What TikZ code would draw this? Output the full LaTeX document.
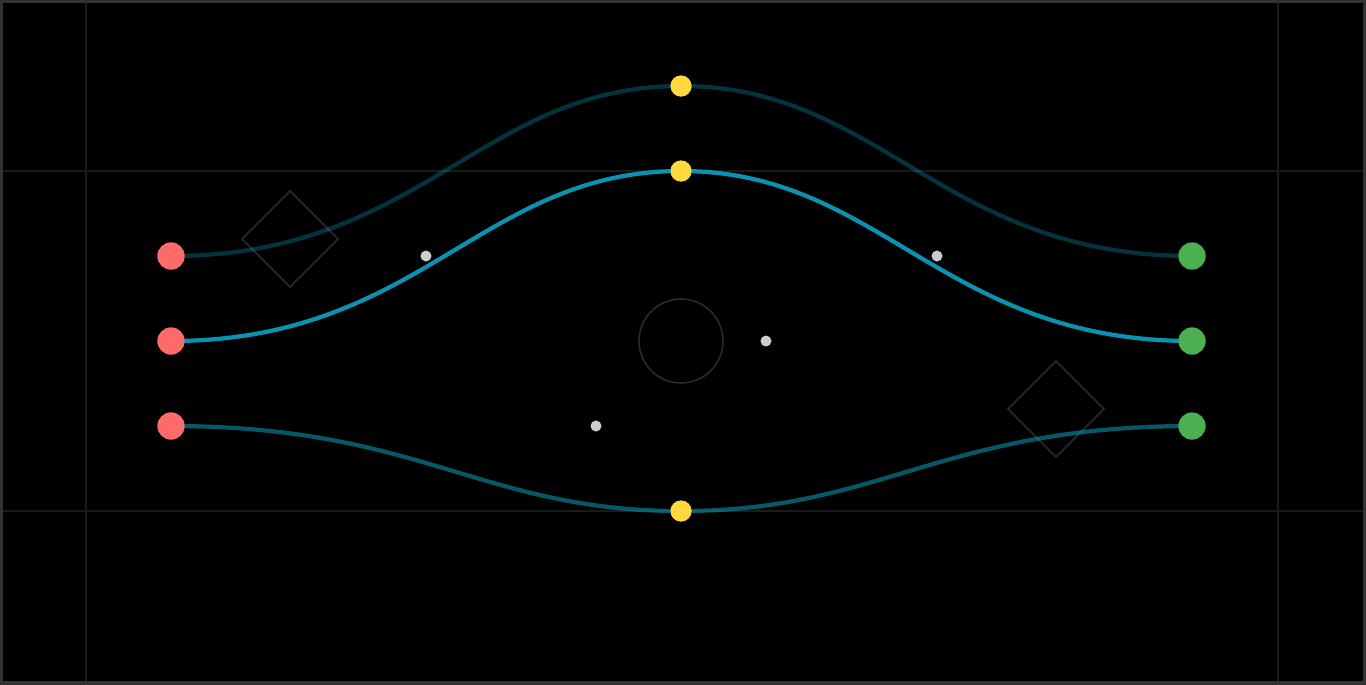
\documentclass[tikz,border=0pt]{standalone}
\usepackage{tikz}
\usetikzlibrary{arrows.meta,positioning,calc}

\definecolor{bgblack}{HTML}{000000}
\definecolor{gridgray}{HTML}{1A1A1A}
\definecolor{framegray}{HTML}{333333}
\definecolor{shapegray}{HTML}{2B2B2B}
\definecolor{wavecyan}{HTML}{0A93B0}
\definecolor{startred}{HTML}{FF6B6B}
\definecolor{endgreen}{HTML}{4CAF50}
\definecolor{peakyellow}{HTML}{FFD93D}
\definecolor{ctrlgray}{HTML}{CCCCCC}

\tikzset{
  startdot/.style={circle,fill=startred,inner sep=0pt,minimum size=0.27cm},
  enddot/.style={circle,fill=endgreen,inner sep=0pt,minimum size=0.27cm},
  peakdot/.style={circle,fill=peakyellow,inner sep=0pt,minimum size=0.21cm},
  ctrldot/.style={circle,fill=ctrlgray,inner sep=0pt,minimum size=0.11cm},
  wave/.style={line width=1.2pt,color=wavecyan,line cap=round},
  marker/.style={draw=shapegray,line width=0.45pt},
}

\begin{document}
\begin{tikzpicture}[x=0.01cm,y=-0.01cm]
  \def\hs{250} % 端点側の制御点までの距離
  \def\hp{200} % 頂点側の制御点までの距離
  \fill[bgblack] (0,0) rectangle (1366,684); % 背景
  \useasboundingbox (0,0) rectangle (1366,684);
  \draw[gridgray,line width=0.35pt] (86,0) -- (86,684); % 縦の補助線(左)
  \draw[gridgray,line width=0.35pt] (1278,0) -- (1278,684); % 縦の補助線(右)
  \draw[gridgray,line width=0.35pt] (0,171) -- (1366,171); % 横の補助線(上)
  \draw[gridgray,line width=0.35pt] (0,511) -- (1366,511); % 横の補助線(下)
  \draw[framegray,line width=0.9pt] (1,1) rectangle (1365,683); % 外枠
  \draw[marker] (290,191) -- (338,239) -- (290,287) -- (242,239) -- cycle; % 菱形(左上)
  \draw[marker] (1056,361) -- (1104,409) -- (1056,457) -- (1008,409) -- cycle; % 菱形(右下)
  \draw[marker] (681,341) circle (42); % 中央の円
  \node[startdot] (s1) at (171,256) {};
  \node[startdot] (s2) at (171,341) {};
  \node[startdot] (s3) at (171,426) {};
  \node[enddot] (e1) at (1192,256) {};
  \node[enddot] (e2) at (1192,341) {};
  \node[enddot] (e3) at (1192,426) {};
  \node[peakdot] (p1) at (681,86) {};
  \node[peakdot] (p2) at (681,171) {};
  \node[peakdot] (p3) at (681,511) {};
  \node[ctrldot] (c1) at (426,256) {};
  \node[ctrldot] (c2) at (937,256) {};
  \node[ctrldot] (c3) at (766,341) {};
  \node[ctrldot] (c4) at (596,426) {};
  % 波(上)：薄い
  \draw[wave,opacity=0.35] (s1.center) .. controls ({171+\hs},256) and ({681-\hp},86) .. (p1.center)
    .. controls ({681+\hp},86) and ({1192-\hs},256) .. (e1.center);
  % 波(中)：はっきり
  \draw[wave] (s2.center) .. controls ({171+\hs},341) and ({681-\hp},171) .. (p2.center)
    .. controls ({681+\hp},171) and ({1192-\hs},341) .. (e2.center);
  % 波(下)
  \draw[wave,opacity=0.6] (s3.center) .. controls ({171+\hs},426) and ({681-\hp},511) .. (p3.center)
    .. controls ({681+\hp},511) and ({1192-\hs},426) .. (e3.center);
  % 点を線の上に重ねる
  \foreach \n in {s1,s2,s3}{\fill[startred] (\n) circle (13.5);}
  \foreach \n in {e1,e2,e3}{\fill[endgreen] (\n) circle (13.5);}
  \foreach \n in {p1,p2,p3}{\fill[peakyellow] (\n) circle (10.5);}
\end{tikzpicture}
\end{document}
